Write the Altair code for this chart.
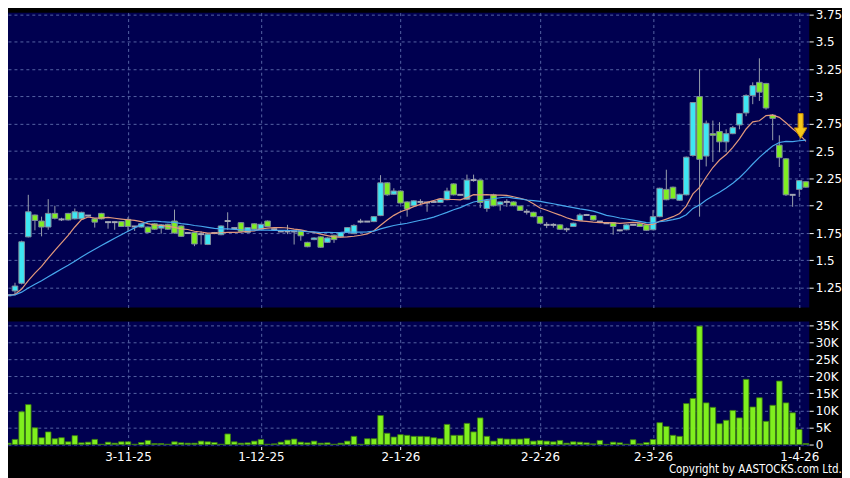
import altair as alt
import pandas as pd
import numpy as np

# ---- data ----
opens = [1.18, 1.22, 1.29, 1.715, 1.915, 1.86, 1.805, 1.93, 1.875, 1.93,
         1.88, 1.88, 1.91, 1.88, 1.93, 1.85, 1.85, 1.855, 1.875, 1.81,
         1.805, 1.805, 1.835, 1.795, 1.83, 1.86, 1.815, 1.75, 1.755, 1.74,
         1.645, 1.75, 1.735, 1.86, 1.795, 1.845, 1.755, 1.835, 1.785, 1.86,
         1.785, 1.765, 1.765, 1.765, 1.77, 1.665, 1.69, 1.715, 1.665, 1.73,
         1.715, 1.755, 1.745, 1.855, 1.855, 1.855, 1.91, 2.21, 2.105, 2.135,
         2.035, 2.0, 2.035, 2.03, 2.035, 2.03, 2.055, 2.20, 2.10, 2.06,
         2.235, 2.235, 1.975, 2.10, 2.01, 2.035, 2.035, 1.998, 1.945, 1.94,
         1.90, 1.825, 1.825, 1.825, 1.785, 1.81, 1.865, 1.915, 1.91, 1.855,
         1.84, 1.845, 1.775, 1.78, 1.825, 1.835, 1.825, 1.78, 1.90, 2.15,
         2.17, 2.05, 2.10, 2.46, 3.0, 2.455, 2.66, 2.68, 2.585, 2.66,
         2.74, 2.85, 3.01, 3.13, 3.12, 2.83, 2.555, 2.43, 2.10, 2.15,
         2.22]
highs = [1.185, 1.295, 1.68, 2.10, 1.92, 1.90, 2.06, 2.00, 1.89, 1.935,
         1.975, 1.945, 1.915, 1.885, 1.935, 1.855, 1.855, 1.86, 1.895, 1.815,
         1.84, 1.81, 1.84, 1.83, 1.835, 1.965, 1.82, 1.755, 1.76, 1.765,
         1.745, 1.76, 1.82, 1.94, 1.80, 1.85, 1.805, 1.84, 1.835, 1.865,
         1.79, 1.77, 1.825, 1.77, 1.775, 1.67, 1.71, 1.72, 1.71, 1.735,
         1.76, 1.805, 1.83, 1.88, 1.86, 1.905, 2.28, 2.215, 2.16, 2.14,
         2.04, 2.05, 2.06, 2.035, 2.04, 2.065, 2.165, 2.205, 2.105, 2.285,
         2.285, 2.24, 2.06, 2.11, 2.04, 2.06, 2.04, 2.0, 1.97, 1.945,
         1.905, 1.85, 1.84, 1.83, 1.80, 1.845, 1.93, 1.925, 1.915, 1.86,
         1.845, 1.85, 1.78, 1.83, 1.83, 1.84, 1.83, 1.96, 2.165, 2.33,
         2.175, 2.11, 2.45, 2.95, 3.25, 2.78, 2.78, 2.765, 2.70, 2.73,
         2.85, 3.02, 3.13, 3.35, 3.125, 2.84, 2.645, 2.435, 2.105, 2.235,
         2.225]
lows = [1.175, 1.18, 1.28, 1.71, 1.775, 1.72, 1.78, 1.875, 1.86, 1.865,
        1.875, 1.875, 1.905, 1.80, 1.875, 1.79, 1.78, 1.805, 1.76, 1.77,
        1.80, 1.75, 1.78, 1.745, 1.78, 1.745, 1.715, 1.745, 1.63, 1.645,
        1.64, 1.74, 1.73, 1.78, 1.79, 1.76, 1.75, 1.78, 1.78, 1.805,
        1.78, 1.76, 1.74, 1.645, 1.68, 1.62, 1.685, 1.615, 1.66, 1.66,
        1.71, 1.75, 1.74, 1.84, 1.85, 1.85, 1.905, 2.09, 2.10, 2.02,
        1.90, 1.995, 2.01, 1.945, 2.03, 2.025, 2.05, 2.095, 2.095, 2.055,
        2.22, 1.98, 1.945, 1.995, 1.955, 1.99, 1.995, 1.955, 1.92, 1.895,
        1.835, 1.795, 1.80, 1.78, 1.76, 1.805, 1.86, 1.91, 1.865, 1.85,
        1.835, 1.735, 1.765, 1.775, 1.82, 1.805, 1.77, 1.775, 1.895, 2.05,
        2.06, 2.045, 2.095, 2.45, 1.90, 2.36, 2.40, 2.49, 2.49, 2.655,
        2.70, 2.82, 2.93, 2.96, 2.88, 2.60, 2.355, 2.09, 1.99, 2.08,
        2.165]
closes = [1.18, 1.265, 1.67, 1.945, 1.865, 1.805, 1.93, 1.885, 1.875, 1.87,
          1.945, 1.94, 1.91, 1.85, 1.88, 1.85, 1.85, 1.81, 1.81, 1.81,
          1.835, 1.755, 1.785, 1.825, 1.785, 1.75, 1.72, 1.75, 1.65, 1.74,
          1.74, 1.75, 1.815, 1.86, 1.795, 1.765, 1.80, 1.785, 1.83, 1.81,
          1.785, 1.765, 1.765, 1.765, 1.725, 1.625, 1.705, 1.62, 1.705, 1.69,
          1.755, 1.80, 1.82, 1.855, 1.855, 1.90, 2.21, 2.10, 2.135, 2.025,
          1.97, 2.045, 2.035, 2.03, 2.035, 2.06, 2.135, 2.10, 2.10, 2.235,
          2.235, 2.03, 2.05, 2.0, 2.035, 2.035, 2.0, 1.957, 1.945, 1.90,
          1.84, 1.825, 1.825, 1.785, 1.785, 1.84, 1.915, 1.915, 1.87, 1.855,
          1.84, 1.81, 1.775, 1.825, 1.825, 1.81, 1.775, 1.90, 2.16, 2.055,
          2.065, 2.105, 2.445, 2.945, 2.425, 2.755, 2.645, 2.585, 2.66, 2.715,
          2.845, 3.01, 3.10, 3.04, 2.895, 2.80, 2.44, 2.10, 2.10, 2.23,
          2.17]
# volume in thousands of shares
volumes_k = [0.4, 1.5, 9.6, 11.7, 4.9, 2.0, 3.7, 1.7, 2.0, 0.8,
             2.6, 0.5, 0.7, 1.5, 0.1, 0.7, 0.4, 0.8, 0.8, 0.1,
             0.6, 1.2, 0.3, 0.3, 0.1, 0.8, 0.5, 0.4, 0.4, 1.0,
             0.8, 0.6, 0.1, 3.1, 0.8, 0.4, 0.5, 1.0, 1.5, 0.1,
             0.2, 0.7, 1.3, 1.6, 0.7, 0.5, 1.0, 0.4, 0.5, 0.1,
             0.4, 1.0, 2.4, 0.1, 1.7, 1.7, 8.5, 3.3, 2.2, 2.9,
             2.7, 2.4, 2.4, 2.3, 2.0, 1.7, 5.9, 2.7, 2.7, 6.2,
             3.7, 7.8, 2.4, 1.0, 1.8, 1.6, 1.6, 1.6, 1.8, 1.0,
             1.2, 1.0, 0.8, 1.2, 0.4, 0.8, 0.7, 0.5, 0.2, 1.2,
             0.05, 0.7, 0.5, 0.1, 1.4, 0.2, 0.6, 1.5, 6.4, 5.3,
             2.7, 2.4, 12.0, 13.5, 34.7, 12.2, 10.9, 6.1, 7.1, 10.0,
             7.8, 19.1, 11.0, 13.7, 6.8, 11.5, 18.6, 12.2, 9.3, 4.4,
             0.3]
# closes before the first visible session (flat), used for the moving averages
prior_closes = [1.18, 1.18, 1.18, 1.18, 1.18, 1.18, 1.18, 1.18, 1.18, 1.18,
                1.18, 1.18, 1.18, 1.18, 1.18, 1.18, 1.18, 1.18, 1.18]

tick_idx = [18, 38, 59, 80, 97, 119]
tick_labels = ["3-11-25", "1-12-25", "2-1-26", "2-2-26", "2-3-26", "1-4-26"]
price_ticks = [1.25, 1.5, 1.75, 2.0, 2.25, 2.5, 2.75, 3.0, 3.25, 3.5, 3.75]
vol_ticks = [0, 5, 10, 15, 20, 25, 30, 35]
arrow_idx = [119.2]
arrow_price = [2.73]

# ---- table ----
N = len(closes)
df = pd.DataFrame({"i": list(range(N)), "o": opens, "h": highs, "l": lows,
                   "c": closes, "v": volumes_k})
allc = pd.Series(prior_closes + closes)
df["ma10"] = allc.rolling(10).mean().iloc[len(prior_closes):].values
df["ma20"] = allc.rolling(20).mean().iloc[len(prior_closes):].values
df["dir"] = np.where(df.c > df.o, "up", np.where(df.c < df.o, "down", "flat"))

CYAN = "#3EE6F2"
GREEN = "#80EE22"
WICK = "#98A0AC"
NAVY = "#000050"
GRID = "#5563A3"

W, H1, H2 = 810, 297, 126
xscale = alt.Scale(domain=[-0.5, N - 0.5], nice=False, zero=False)
pscale = alt.Scale(domain=[1.068, 3.768], nice=False, zero=False)
vscale = alt.Scale(domain=[-0.59, 36.07], nice=False, zero=False)

grid = dict(grid=True, gridColor=GRID, gridDash=[3, 3], gridWidth=1)
label_expr = " : ".join(f"datum.value == {k} ? '{s}'" for k, s in zip(tick_idx, tick_labels)) + " : ''"

price_x_axis = alt.Axis(values=tick_idx, labels=False, ticks=False, domain=False, title=None, **grid)
price_y_axis = alt.Axis(orient="right", values=price_ticks, format=".2~f", title=None,
                        tickSize=4, labelPadding=2, domain=False, **grid)

base = alt.Chart(df)

wicks = base.mark_rule(color=WICK, strokeWidth=1).encode(
    x=alt.X("i:Q", scale=xscale, axis=price_x_axis),
    y=alt.Y("l:Q", scale=pscale, axis=price_y_axis),
    y2="h:Q",
)

bodies = base.transform_filter("datum.dir != 'flat'").transform_calculate(
    x1="datum.i - 0.42", x2="datum.i + 0.42"
).mark_rect(stroke="#7F8C9C", strokeWidth=1).encode(
    x=alt.X("x1:Q", scale=xscale, axis=price_x_axis),
    x2="x2:Q",
    y=alt.Y("o:Q", scale=pscale, axis=price_y_axis),
    y2="c:Q",
    color=alt.Color("dir:N", scale=alt.Scale(domain=["up", "down"], range=[CYAN, GREEN]), legend=None),
)

dojis = base.transform_filter("datum.dir == 'flat'").transform_calculate(
    x1="datum.i - 0.45", x2="datum.i + 0.45"
).mark_rule(color="#A4A8B4", strokeWidth=2).encode(
    x=alt.X("x1:Q", scale=xscale, axis=price_x_axis),
    x2="x2:Q",
    y=alt.Y("c:Q", scale=pscale, axis=price_y_axis),
)

ma10 = base.mark_line(color="#E49A7C", strokeWidth=1.2).encode(
    x=alt.X("i:Q", scale=xscale, axis=price_x_axis),
    y=alt.Y("ma10:Q", scale=pscale, axis=price_y_axis))
ma20 = base.mark_line(color="#46A6EC", strokeWidth=1.2).encode(
    x=alt.X("i:Q", scale=xscale, axis=price_x_axis),
    y=alt.Y("ma20:Q", scale=pscale, axis=price_y_axis))

arrow_shape = "M-0.2,-1 L0.2,-1 L0.2,0.15 L0.5,0.15 L0,1 L-0.5,0.15 L-0.2,0.15 Z"
arrow = alt.Chart(pd.DataFrame({"i": arrow_idx, "p": arrow_price})).mark_point(
    shape=arrow_shape, size=625, filled=True, fill="#F6C81A", stroke="#C88A00",
    strokeWidth=1, opacity=1
).encode(x=alt.X("i:Q", scale=xscale, axis=price_x_axis),
         y=alt.Y("p:Q", scale=pscale, axis=price_y_axis))

price = alt.layer(wicks, bodies, dojis, ma10, ma20, arrow).properties(width=W, height=H1)

volume = base.transform_calculate(
    x1="datum.i - 0.42", x2="datum.i + 0.42"
).mark_rect(fill="#7FEF1E", stroke="#3A7A10", strokeWidth=0.8).encode(
    x=alt.X("x1:Q", scale=xscale,
            axis=alt.Axis(values=tick_idx, labelExpr=label_expr, title=None, tickSize=3,
                          labelPadding=2, domain=False, labelFlush=False, **grid)),
    x2="x2:Q",
    y=alt.Y("v:Q", scale=vscale,
            axis=alt.Axis(orient="right", values=vol_ticks, title=None, tickSize=4, labelPadding=2,
                          labelExpr="datum.value == 0 ? '0' : datum.value + 'K'", domain=False, **grid)),
    y2=alt.datum(0),
).properties(width=W, height=H2)

chart = alt.vconcat(price, volume, spacing=11).properties(
    padding={"left": -4, "top": -2, "right": 0, "bottom": 0},
    background="black",
    title=alt.TitleParams(text="Copyright by AASTOCKS.com Ltd.", orient="bottom", anchor="end",
                          color="white", font="Liberation Sans Narrow, DejaVu Sans Condensed, Liberation Sans",
                          fontSize=11.5, fontWeight="normal", offset=2),
).configure_view(fill=NAVY, stroke=None).configure_axis(
    labelColor="white", tickColor="white", labelFont="DejaVu Sans", labelFontSize=12
)

chart.save("out.html", embed_options={"renderer": "svg", "actions": False})
